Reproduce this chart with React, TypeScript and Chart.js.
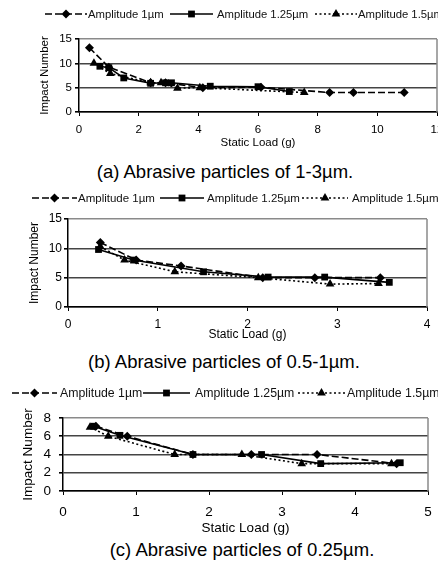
import React, { useEffect, useRef } from 'react';
import { Chart, registerables } from 'chart.js';

Chart.register(...registerables);

// ---------- data ----------
const seriesNames = ['Amplitude 1µm', 'Amplitude 1.25µm', 'Amplitude 1.5µm'];
const xTitle = 'Static Load (g)';
const yTitle = 'Impact Number';

// (a) 1-3 µm
const aAmp1X = [0.35, 1.0, 2.4, 2.9, 4.15, 6.1, 8.4, 9.2, 10.9];
const aAmp1Y = [13.2, 9.2, 6, 6, 5, 5.1, 4, 4, 4];
const aAmp125X = [0.7, 1.0, 1.5, 2.4, 2.9, 3.1, 4.4, 6.0, 7.05];
const aAmp125Y = [9.4, 9.1, 7, 5.9, 6, 6, 5.3, 5.2, 4.2];
const aAmp15X = [0.5, 1.05, 2.4, 2.75, 3.3, 4.05, 7.55];
const aAmp15Y = [10, 7.9, 6, 6, 4.9, 5, 4];

// (b) 0.5-1 µm
const bAmp1X = [0.36, 0.76, 1.26, 2.17, 2.75, 3.48];
const bAmp1Y = [11, 8, 7, 5, 5, 5];
const bAmp125X = [0.34, 0.73, 1.51, 2.23, 2.86, 3.58];
const bAmp125Y = [9.8, 8, 6, 5.1, 5.1, 4.2];
const bAmp15X = [0.36, 0.63, 1.19, 2.12, 2.92, 3.46];
const bAmp15Y = [10.3, 8, 6, 5, 3.9, 4];

// (c) 0.25 µm
const cAmp1X = [0.45, 0.88, 1.78, 2.58, 3.48, 4.57];
const cAmp1Y = [7.1, 6, 4, 4, 4, 3];
const cAmp125X = [0.42, 0.78, 1.78, 2.72, 3.53, 4.62];
const cAmp125Y = [7.1, 6.1, 4, 4, 3, 3.1];
const cAmp15X = [0.37, 0.62, 1.53, 2.45, 3.27, 4.5];
const cAmp15Y = [7, 6, 4, 4, 3, 3];

const captions = [
  '(a) Abrasive particles of 1-3µm.',
  '(b) Abrasive particles of 0.5-1µm.',
  '(c) Abrasive particles of 0.25µm.',
];

// ---------- styles / layout ----------
const FONT = "'Liberation Sans', Arial, sans-serif";
const W = 438;
const seriesStyles = [
  { dash: [7, 3], point: 'rectRot', radius: 4.5 },
  { dash: [], point: 'rect', radius: 4.8 },
  { dash: [2, 2.5], point: 'triangle', radius: 5 },
];

type Panel = {
  top: number; height: number;
  plot: { left: number; right: number; top: number; bottom: number };
  xMax: number; xStep: number; yMax: number; yStep: number;
  font: number; legendFont: number; xTickPad: number; yTickPad: number; yTitleX: number;
  legendY: number; legend: { s0: number; s1: number; t: number }[];
  xs: number[][]; ys: number[][];
};

const panels: Panel[] = [
  {
    top: 0, height: 152,
    plot: { left: 79, right: 437, top: 39, bottom: 112 },
    xMax: 12, xStep: 2, yMax: 15, yStep: 5,
    font: 11.5, legendFont: 11.3, xTickPad: 7, yTickPad: 3, yTitleX: 45,
    legendY: 14,
    legend: [{ s0: 45, s1: 87, t: 88 }, { s0: 170, s1: 213, t: 217 }, { s0: 315, s1: 357, t: 358 }],
    xs: [aAmp1X, aAmp125X, aAmp15X], ys: [aAmp1Y, aAmp125Y, aAmp15Y],
  },
  {
    top: 185, height: 159,
    plot: { left: 68, right: 427, top: 219, bottom: 307 },
    xMax: 4, xStep: 1, yMax: 15, yStep: 5,
    font: 12, legendFont: 11.5, xTickPad: 6, yTickPad: 2, yTitleX: 35,
    legendY: 198,
    legend: [{ s0: 32, s1: 77, t: 78 }, { s0: 160, s1: 204, t: 207 }, { s0: 302, s1: 348, t: 352 }],
    xs: [bAmp1X, bAmp125X, bAmp15X], ys: [bAmp1Y, bAmp125Y, bAmp15Y],
  },
  {
    top: 380, height: 158,
    plot: { left: 63, right: 428, top: 418, bottom: 491 },
    xMax: 5, xStep: 1, yMax: 8, yStep: 2,
    font: 13.5, legendFont: 12.3, xTickPad: 9, yTickPad: 8, yTitleX: 28,
    legendY: 393,
    legend: [{ s0: 12, s1: 57, t: 60 }, { s0: 143, s1: 190, t: 195 }, { s0: 298, s1: 345, t: 347 }],
    xs: [cAmp1X, cAmp125X, cAmp15X], ys: [cAmp1Y, cAmp125Y, cAmp15Y],
  },
];

const captionPos = [
  { cx: 225, cy: 172 },
  { cx: 224, cy: 362 },
  { cx: 242, cy: 550 },
];

function drawMarker(ctx: CanvasRenderingContext2D, style: string, x: number, y: number, r: number) {
  ctx.beginPath();
  if (style === 'rectRot') {
    ctx.moveTo(x, y - r); ctx.lineTo(x + r, y); ctx.lineTo(x, y + r); ctx.lineTo(x - r, y); ctx.closePath();
  } else if (style === 'rect') {
    const s = r * Math.SQRT1_2;
    ctx.rect(x - s, y - s, 2 * s, 2 * s);
  } else {
    ctx.moveTo(x, y - r); ctx.lineTo(x + r * 0.87, y + r * 0.5); ctx.lineTo(x - r * 0.87, y + r * 0.5); ctx.closePath();
  }
  ctx.fill();
}

function buildConfig(p: Panel): any {
  const plotTopRel = p.plot.top - p.top;
  const plotBottomRel = p.plot.bottom - p.top;
  const lh = p.font * 1.2;
  const datasets = seriesNames.map((name, i) => ({
    label: name,
    data: p.xs[i].map((x, j) => ({ x, y: p.ys[i][j] })),
    showLine: true,
    borderColor: '#000',
    backgroundColor: '#000',
    borderWidth: 1.6,
    borderDash: seriesStyles[i].dash,
    pointStyle: seriesStyles[i].point,
    pointRadius: seriesStyles[i].radius,
    pointBorderWidth: 0,
    tension: 0,
  }));

  const legendPlugin = {
    id: 'panelLegend',
    afterDraw(chart: any) {
      const ctx: CanvasRenderingContext2D = chart.ctx;
      const y = p.legendY - p.top;
      ctx.save();
      p.legend.forEach((it, i) => {
        ctx.strokeStyle = '#000';
        ctx.lineWidth = 1.5;
        ctx.setLineDash(seriesStyles[i].dash);
        ctx.beginPath();
        ctx.moveTo(it.s0, y);
        ctx.lineTo(it.s1, y);
        ctx.stroke();
        ctx.setLineDash([]);
        ctx.fillStyle = '#000';
        drawMarker(ctx, seriesStyles[i].point, (it.s0 + it.s1) / 2, y, seriesStyles[i].radius);
        ctx.font = `${p.legendFont}px ${FONT}`;
        ctx.textBaseline = 'middle';
        ctx.textAlign = 'left';
        ctx.fillStyle = '#111';
        ctx.fillText(seriesNames[i], it.t, y + 0.5);
      });
      ctx.restore();
    },
  };

  const framePlugin = {
    id: 'panelFrame',
    beforeDatasetsDraw(chart: any) {
      const { ctx, chartArea } = chart;
      ctx.save();
      ctx.strokeStyle = '#8a8a8a';
      ctx.lineWidth = 1.5;
      ctx.beginPath();
      ctx.moveTo(chartArea.right, chartArea.top);
      ctx.lineTo(chartArea.right, chartArea.bottom);
      ctx.stroke();
      ctx.restore();
    },
  };

  const font = { family: FONT, size: p.font };

  return {
    type: 'scatter',
    data: { datasets },
    plugins: [legendPlugin, framePlugin],
    options: {
      responsive: false,
      animation: false,
      layout: {
        autoPadding: false,
        padding: { top: plotTopRel, right: W - p.plot.right, left: 0, bottom: 0 },
      },
      plugins: { legend: { display: false }, tooltip: { enabled: false } },
      scales: {
        x: {
          type: 'linear', min: 0, max: p.xMax,
          ticks: { stepSize: p.xStep, font, color: '#000', padding: p.xTickPad, maxRotation: 0, autoSkip: false },
          grid: { drawOnChartArea: false, drawTicks: true, tickLength: 4, color: '#000', lineWidth: 1 },
          border: { color: '#000', width: 1.5 },
          title: { display: true, text: xTitle, font, color: '#000', padding: { top: 0, bottom: 2 } },
          afterFit(s: any) {
            s.height = p.height - plotBottomRel;
            s.paddingLeft = 0; s.paddingRight = 0;
          },
        },
        y: {
          type: 'linear', min: 0, max: p.yMax,
          ticks: { stepSize: p.yStep, font, color: '#000', padding: p.yTickPad, autoSkip: false },
          grid: {
            color: (c: any) => (c.tick && c.tick.value === p.yMax ? '#8a8a8a' : '#444'),
            tickColor: '#000', tickLength: 4, lineWidth: 1.6,
          },
          border: { color: '#000', width: 1.5 },
          title: { display: true, text: yTitle, font, color: '#000', padding: { top: p.yTitleX - lh / 2, bottom: 0 } },
          afterFit(s: any) {
            s.width = p.plot.left;
            s.paddingTop = 0; s.paddingBottom = 0;
          },
        },
      },
    },
  };
}

function ChartPanel({ p }: { p: Panel }) {
  const ref = useRef<HTMLCanvasElement>(null);
  useEffect(() => {
    const chart = new Chart(ref.current as HTMLCanvasElement, buildConfig(p));
    return () => chart.destroy();
  }, [p]);
  return (
    <canvas
      ref={ref}
      width={W}
      height={p.height}
      style={{ position: 'absolute', left: 0, top: p.top, width: W, height: p.height }}
    />
  );
}

export default function App() {
  return (
    <div style={{ position: 'fixed', left: 0, top: 0, width: W, height: 570, overflow: 'hidden', background: '#fff' }}>
      {panels.map((p, i) => (
        <ChartPanel key={i} p={p} />
      ))}
      {captions.map((c, i) => (
        <div
          key={'c' + i}
          style={{
            position: 'absolute',
            left: captionPos[i].cx - 200,
            top: captionPos[i].cy - 11,
            width: 400,
            textAlign: 'center',
            font: `18.5px ${FONT}`,
            lineHeight: '22px',
            color: '#000',
            whiteSpace: 'nowrap',
          }}
        >
          {c}
        </div>
      ))}
    </div>
  );
}
